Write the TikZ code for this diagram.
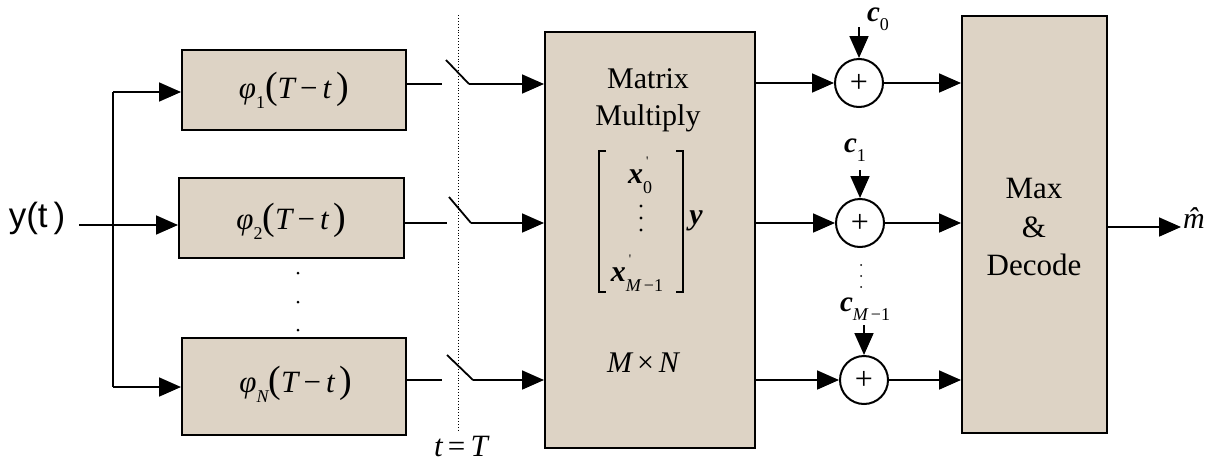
\documentclass[tikz,border=0pt]{standalone}
\usepackage{fontspec}
\setmainfont{Liberation Serif}
\newfontfamily\sansf{Liberation Sans}
\usetikzlibrary{arrows.meta}
\definecolor{boxfill}{RGB}{221,211,197}
\newcommand\mi[1]{{\itshape #1}}
\newcommand\bi[1]{{\bfseries\itshape #1}}
\newcommand\lsub[1]{\raisebox{-0.32em}{\fontsize{18}{18}\selectfont #1}}
\newcommand\psub[1]{\rlap{\raisebox{0.62em}{\kern3pt\fontsize{13}{13}\selectfont\textquotesingle}}\lsub{#1}}
\newcommand\bigp[1]{{\fontsize{38}{38}\selectfont #1}}
\begin{document}
\begin{tikzpicture}[x=1pt,y=-1pt,
  blk/.style={draw=black, line width=2pt, fill=boxfill, inner sep=0pt},
  sumnode/.style={draw, circle, line width=2pt, minimum size=48pt, inner sep=0pt, fill=white, font=\fontsize{32}{32}\selectfont},
  conn/.style={line width=1.8pt},
  arr/.style={conn, -{Triangle[length=22pt,width=19pt]}},
  lbl/.style={font=\fontsize{30}{38}\selectfont, inner sep=0pt, align=center},
  phil/.style={font=\fontsize{31}{36}\selectfont, inner sep=0pt},
  clbl/.style={font=\fontsize{29}{30}\selectfont, inner sep=0pt},
]
\useasboundingbox (0,0) rectangle (1208,461);

% input
\node[inner sep=0pt, font=\sansf\fontsize{35}{35}\selectfont] (yt) at (37,218) {y(t\,)};
\coordinate (in) at (79,225);
\coordinate (bt) at (113,92);
\coordinate (bb) at (113,387);

% filters
\node[blk, minimum width=224pt, minimum height=80pt] (f1) at (294,90) {};
\node[phil] (f1t) at (294,90) {\mi{φ}\lsub{1}\bigp{(}\mi{T}\,−\,\mi{t}\,\bigp{)}};
\node[blk, minimum width=225pt, minimum height=80pt] (f2) at (291.5,218) {};
\node[phil] (f2t) at (291.5,221) {\mi{φ}\lsub{2}\bigp{(}\mi{T}\,−\,\mi{t}\,\bigp{)}};
\node[blk, minimum width=224pt, minimum height=97pt] (fN) at (294,386.5) {};
\node[phil] (fNt) at (296,384) {\mi{φ}\lsub{\mi{N}}\bigp{(}\mi{T}\,−\,\mi{t}\,\bigp{)}};

\draw[conn] (bt) -- (bb);
\draw[arr] (bt) -- (bt -| f1.west);
\draw[arr] (in) -- (in -| f2.west);
\draw[arr] (bb) -- (bb -| fN.west);

\fill (298,273) circle (1.5pt) (298,302) circle (1.5pt) (298,330) circle (1.5pt);

% sampling line
\coordinate (dt) at (458,15);
\coordinate (db) at (458,430);
\draw[dotted, line width=0.9pt] (dt) -- (db);
\node[phil] (tT) at (461,446) {\mi{t}\,=\,\mi{T}};

% matrix block
\node[blk, minimum width=210pt, minimum height=416pt] (mm) at (650,240) {};
\node[lbl] (mt1) at (648,79) {Matrix};
\node[lbl] (mt2) at (648,118) {Multiply};
\node[lbl] (x0) at (640,175) {\bi{x}\psub{0}};
\fill (641,206) circle (1.7pt) (641,218) circle (1.7pt) (641,230) circle (1.7pt);
\node[lbl] (xM) at (637,273) {\bi{x}\psub{\mi{M}\,−1}};
\node[lbl] (yv) at (696,221) {\bi{y}};
\draw[line width=1.2pt] (606,151) -- (599,151) -- (599,292) -- (606,292);
\draw[line width=1.2pt] (676,151) -- (683,151) -- (683,292) -- (676,292);
\node[lbl] (mn) at (643,363) {\mi{M}\,×\,\mi{N}};

% switches
\coordinate (o1) at (442,84);  \coordinate (sa1) at (446,60);  \coordinate (sb1) at (469,84);
\coordinate (o2) at (447,223); \coordinate (sa2) at (449,197); \coordinate (sb2) at (471,223);
\coordinate (o3) at (442,380); \coordinate (sa3) at (447,355); \coordinate (sb3) at (473,380);
\draw[conn] (f1.east |- o1) -- (o1);
\draw[conn] (f2.east |- o2) -- (o2);
\draw[conn] (fN.east |- o3) -- (o3);
\draw[conn] (sa1) -- (sb1);
\draw[conn] (sa2) -- (sb2);
\draw[conn] (sa3) -- (sb3);
\draw[arr] (sb1) -- (sb1 -| mm.west);
\draw[arr] (sb2) -- (sb2 -| mm.west);
\draw[arr] (sb3) -- (sb3 -| mm.west);

% max block
\node[blk, minimum width=145pt, minimum height=417pt] (mx) at (1034.5,224.5) {};
\node[lbl, font=\fontsize{31}{38.5}\selectfont] (mxt) at (1034,227) {Max\\\&\\Decode};

% summers
\node[sumnode] (s1) at (859,83) {+};
\node[sumnode] (s2) at (860,223) {+};
\node[sumnode] (s3) at (864,380) {+};
\draw[arr] (mm.east |- s1) -- (s1);
\draw[arr] (mm.east |- s2) -- (s2);
\draw[arr] (mm.east |- s3) -- (s3);
\draw[arr] (s1) -- (s1 -| mx.west);
\draw[arr] (s2) -- (s2 -| mx.west);
\draw[arr] (s3) -- (s3 -| mx.west);

\node[clbl] (c0) at (878,19) {\bi{c}\lsub{0}};
\node[clbl] (c1) at (855,150) {\bi{c}\lsub{1}};
\node[clbl] (cM) at (865,309) {\bi{c}\lsub{\mi{M}\,−1}};
\coordinate (c0a) at (859,27);
\coordinate (c1a) at (860,170);
\coordinate (cMa) at (864,325);
\draw[arr] (c0a) -- (s1);
\draw[arr] (c1a) -- (s2);
\draw[arr] (cMa) -- (s3);
\fill (861,265) circle (1pt) (861,276) circle (1pt) (861,287) circle (1pt);

% output
\coordinate (out) at (1181,227);
\draw[arr] (mx.east |- out) -- (out);
\node[inner sep=0pt, anchor=west, font=\fontsize{30}{30}\selectfont] (mh) at (1183,218) {\mi{\^{m}}};
\end{tikzpicture}
\end{document}
